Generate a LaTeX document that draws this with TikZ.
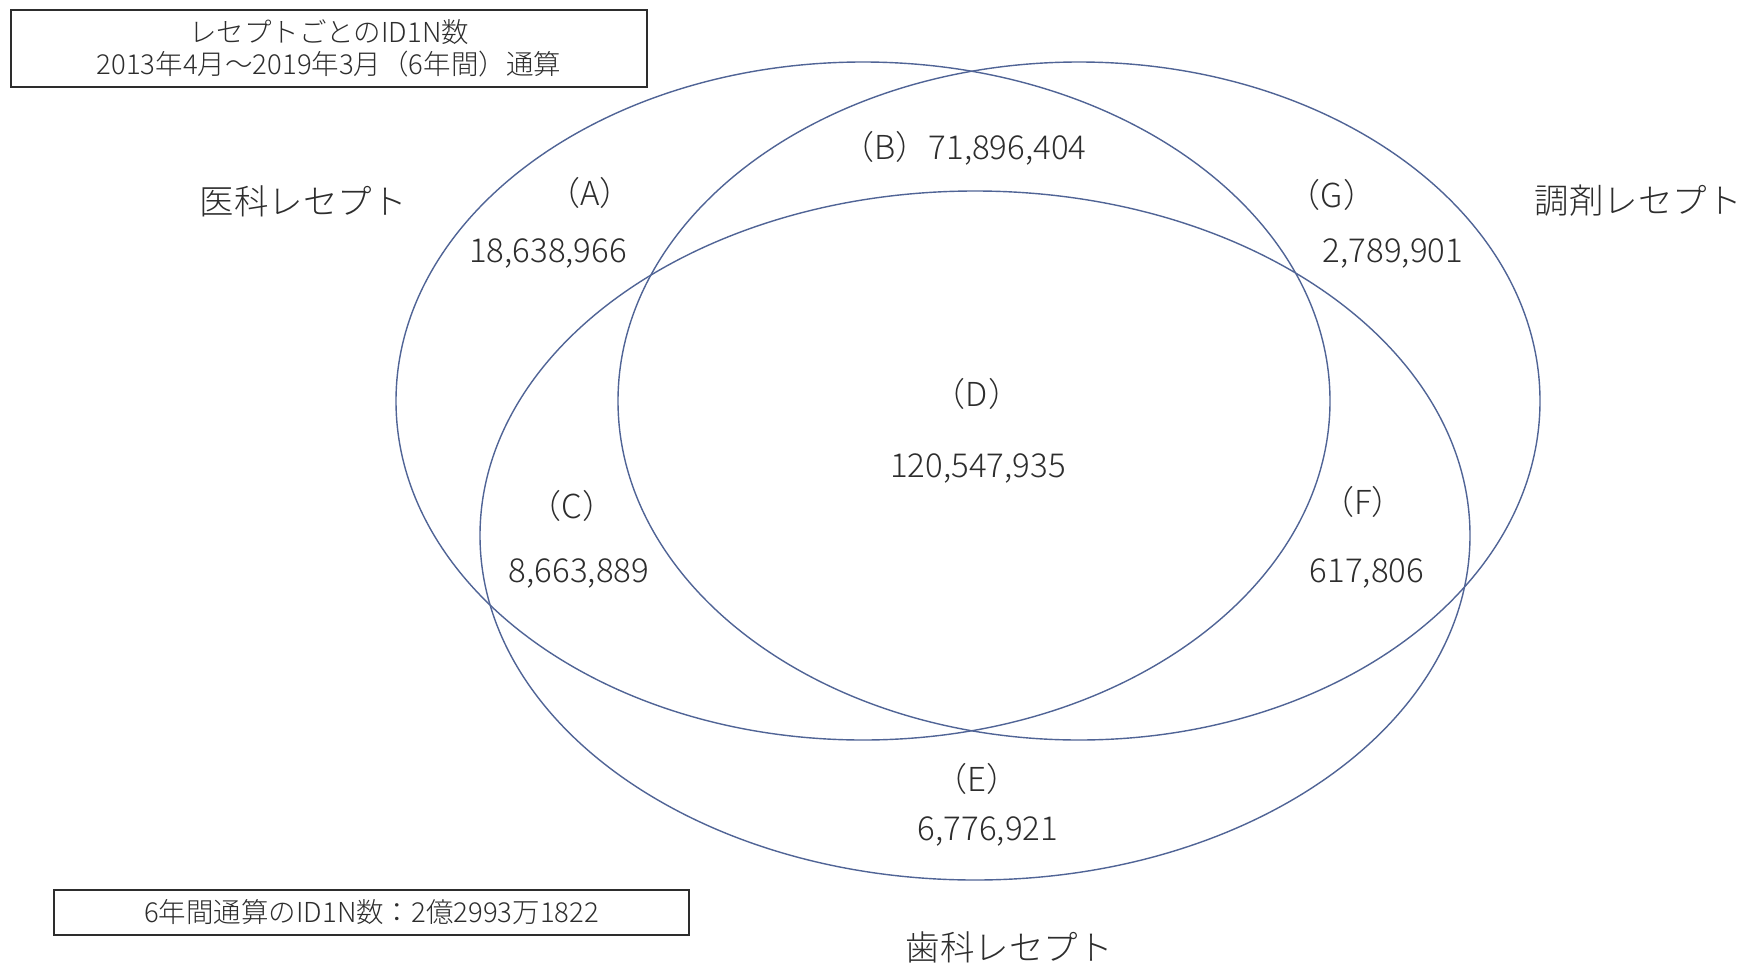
\documentclass[tikz,border=0pt]{standalone}
\usepackage{fontspec}
\setmainfont{Noto Sans CJK JP}[UprightFont=* Light]
\usetikzlibrary{shapes.geometric}
\definecolor{ring}{RGB}{80,100,150}
\definecolor{ink}{RGB}{45,45,45}
\tikzset{
  venn/.style={ellipse, draw=ring, line width=1.4pt, inner sep=0pt},
  frame/.style={draw=ink, line width=1.3pt, inner sep=0pt, text=ink, align=center},
  num/.style={text=ink, inner sep=0pt, font=\fontsize{33}{38}\selectfont},
  setname/.style={text=ink, inner sep=0pt, font=\fontsize{34.5}{40}\selectfont},
  boxtext/.style={font=\fontsize{27.5}{32}\selectfont}
}
\begin{document}
\begin{tikzpicture}[x=1pt,y=-1pt]
\useasboundingbox (0,0) rectangle (1745,964);
\fill[white] (0,0) rectangle (1745,964);
% ellipses
\node[venn, minimum width=934pt, minimum height=678pt] (med) at (863,401) {};
\node[venn, minimum width=922pt, minimum height=678pt] (pha) at (1079,401) {};
\node[venn, minimum width=990pt, minimum height=689pt] (den) at (975,535.5) {};
% boxes
\node[frame, boxtext, minimum width=636pt, minimum height=77pt] (title) at (329,48.5)
  {レセプトごとのID1N数\\2013年4月～2019年3月（6年間）通算};
\node[frame, boxtext, minimum width=635pt, minimum height=45pt] (total) at (371.5,912.5)
  {6年間通算のID1N数：2億2993万1822};
% set names
\node[setname] (medname) at (303,201) {医科レセプト};
\node[setname] (phaname) at (1638,201) {調剤レセプト};
\node[setname] (denname) at (1009,947) {歯科レセプト};
% region labels
\node[num] (A) at (590,193) {（A）};
\node[num] (Anum) at (548,254) {18,638,966};
\node[num] (B) at (964,148) {（B）71,896,404};
\node[num] (G) at (1332,195) {（G）};
\node[num] (Gnum) at (1393,254) {2,789,901};
\node[num] (D) at (977,394) {（D）};
\node[num] (Dnum) at (978,469) {120,547,935};
\node[num] (C) at (572,506) {（C）};
\node[num] (Cnum) at (579,573) {8,663,889};
\node[num] (F) at (1363,502) {（F）};
\node[num] (Fnum) at (1367,573) {617,806};
\node[num] (E) at (977,779) {（E）};
\node[num] (Enum) at (988,831) {6,776,921};
\end{tikzpicture}
\end{document}
